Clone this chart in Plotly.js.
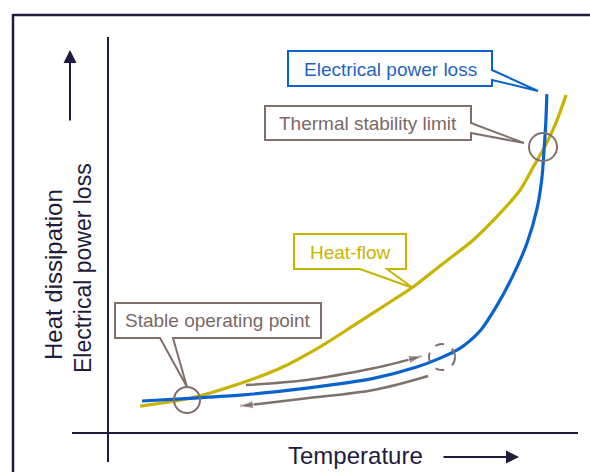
<!DOCTYPE html>
<html><head><meta charset="utf-8">
<script src="https://cdn.plot.ly/plotly-3.0.1.min.js"></script>
<style>html,body{margin:0;padding:0;background:#fff}#chart{width:590px;height:472px}</style>
</head><body><div id="chart"></div>
<script>
// Schematic data (temperature 0-100, power 0-100)
const tempLoss  = [7.4, 17.8, 28.7, 43.2, 57.7, 67.1, 72.2, 76.5, 80.9, 84.6, 88.0, 91.1, 93.3, 94.35, 94.8, 95.2, 95.4];
const powerLoss = [8.2, 8.9, 9.7, 11.5, 14.0, 16.9, 19.2, 21.7, 26.2, 32.8, 40.3, 48.7, 57.7, 65.6, 72.6, 80.3, 86.9];
const tempHeat  = [7.0, 17.8, 28.7, 37.4, 46.1, 54.1, 62.0, 66.4, 72.9, 79.4, 85.2, 89.6, 92.5, 94.6, 97.2, 99.6];
const heatFlow  = [6.9, 8.9, 12.7, 16.6, 22.1, 28.1, 34.1, 37.5, 43.5, 49.5, 56.3, 62.3, 68.3, 72.6, 79.0, 86.7];
const riseT = [30.0, 43.2, 57.7, 63.5, 68.2];
const riseP = [12.3, 13.6, 16.6, 18.2, 19.7];
const fallT = [69.6, 57.7, 43.2, 34.1, 28.7];
const fallP = [14.6, 11.0, 8.9, 7.6, 6.9];
const labels = {
  loss: "Electrical power loss",
  limit: "Thermal stability limit",
  heat: "Heat-flow",
  stable: "Stable operating point",
  xTitle: "Temperature",
  yTitle1: "Heat dissipation",
  yTitle2: "Electrical power loss"
};

// layout helpers (pixel -> data / paper)
const X = px => (px - 108) / 4.6;
const Y = py => (433 - py) / 3.9;
const XP = px => (px - 72) / 506;
const YP = py => (462 - py) / 425;

const NAVY = '#1e1b3c', BLUE = '#0a62cf', GOLD = '#c8b400', GRAY = '#80706c';
const FONT = 'Liberation Sans, Arial, sans-serif';

function poly(pts) {
  return 'M' + pts.map(p => X(p[0]).toFixed(3) + ',' + Y(p[1]).toFixed(3)).join(' L') + ' Z';
}
function callout(pts, color) {
  return {type: 'path', xref: 'x', yref: 'y', path: poly(pts), fillcolor: '#fff',
          line: {color: color, width: 2}, layer: 'above'};
}
function ring(cx, cy, r, dash) {
  return {type: 'circle', xref: 'x', yref: 'y', xsizemode: 'pixel', ysizemode: 'pixel',
          xanchor: X(cx), yanchor: Y(cy), x0: -r, x1: r, y0: -r, y1: r,
          line: {color: GRAY, width: 2, dash: dash || 'solid'}, layer: 'above'};
}
function arrowSizes(n) { return Array.from({length: n}, (_, i) => i === n - 1 ? 14 : 0); }
function txt(xref, x, y, text, size, color, angle) {
  return {xref: xref, yref: xref === 'x' ? 'y' : 'paper', x: x, y: y, text: text, showarrow: false,
          xanchor: 'center', yanchor: 'middle', textangle: angle || 0,
          font: {size: size, color: color, family: FONT}};
}

const traces = [
  {x: tempHeat, y: heatFlow, mode: 'lines', line: {color: GOLD, width: 3.2, shape: 'spline', smoothing: 0.8}, hoverinfo: 'skip'},
  {x: tempLoss, y: powerLoss, mode: 'lines', line: {color: BLUE, width: 3.2, shape: 'spline', smoothing: 0.8}, hoverinfo: 'skip'},
  {x: riseT, y: riseP, mode: 'lines+markers', line: {color: GRAY, width: 2.5, shape: 'spline'},
   marker: {symbol: 'arrow', angleref: 'previous', size: arrowSizes(riseT.length), color: GRAY}, hoverinfo: 'skip'},
  {x: fallT, y: fallP, mode: 'lines+markers', line: {color: GRAY, width: 2.5, shape: 'spline'},
   marker: {symbol: 'arrow', angleref: 'previous', size: arrowSizes(fallT.length), color: GRAY}, hoverinfo: 'skip'}
];

const shapes = [
  // outer frame
  {type: 'line', xref: 'paper', yref: 'paper', x0: XP(13), x1: XP(592), y0: YP(15), y1: YP(15), line: {color: NAVY, width: 2.5}},
  {type: 'line', xref: 'paper', yref: 'paper', x0: XP(13), x1: XP(13), y0: YP(14), y1: YP(475), line: {color: NAVY, width: 2.5}},
  callout([[288,51],[492,51],[492,70],[538,91],[492,80],[492,86],[288,86]], BLUE),
  callout([[265,106],[471,106],[471,123],[524,143],[471,133],[471,140],[265,140]], GRAY),
  callout([[294,234],[406,234],[406,269],[387,269],[413,288],[360,269],[294,269]], GOLD),
  callout([[115,303],[321,303],[321,338],[173,338],[187,387],[160,338],[115,338]], GRAY),
  ring(187, 400, 13),
  ring(543, 147, 14),
  ring(442, 357, 13, 'dash')
];

const annotations = [
  txt('x', X(390), Y(69), labels.loss, 19, '#1f64c4'),
  txt('x', X(368), Y(123), labels.limit, 19, '#7a6866'),
  txt('x', X(350), Y(252), labels.heat, 19, GOLD),
  txt('x', X(218), Y(320), labels.stable, 19, '#7a6866'),
  txt('paper', XP(53), YP(275), labels.yTitle1, 24, NAVY, -90),
  txt('paper', XP(83), YP(268), labels.yTitle2, 23, NAVY, -90),
  txt('paper', XP(355), YP(455), labels.xTitle, 24, NAVY),
  {xref: 'paper', yref: 'paper', x: XP(70), y: YP(50), ax: 0, ay: 72, text: '', showarrow: true, arrowhead: 2, arrowsize: 1.3, arrowwidth: 2, arrowcolor: NAVY},
  {xref: 'paper', yref: 'paper', x: XP(519), y: YP(457), ax: -77, ay: 0, text: '', showarrow: true, arrowhead: 2, arrowsize: 1.3, arrowwidth: 2, arrowcolor: NAVY}
];

const axisCommon = {showgrid: false, showticklabels: false, ticks: '', showline: false,
  zeroline: true, zerolinecolor: NAVY, zerolinewidth: 2, fixedrange: true};

const layout = {
  width: 590, height: 472,
  margin: {l: 72, r: 12, t: 37, b: 10, pad: 0},
  paper_bgcolor: '#fff', plot_bgcolor: 'rgba(0,0,0,0)',
  showlegend: false,
  font: {family: FONT},
  xaxis: Object.assign({range: [X(72), X(578)]}, axisCommon),
  yaxis: Object.assign({range: [Y(462), Y(37)]}, axisCommon),
  shapes: shapes,
  annotations: annotations
};

Plotly.newPlot('chart', traces, layout, {displayModeBar: false, staticPlot: true});
</script>
</body></html>
